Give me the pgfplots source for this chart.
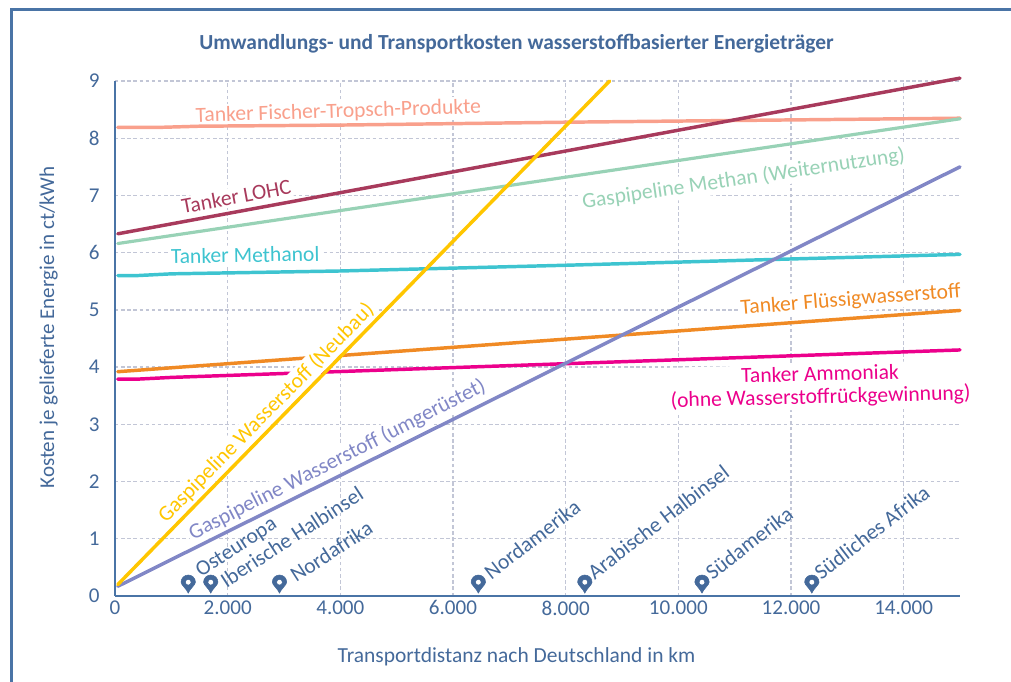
\documentclass[border=0pt]{standalone}
\usepackage{pgfplots}
\pgfplotsset{compat=1.18}
\usepackage{fontspec}
\setmainfont{Carlito}
\definecolor{frameblue}{HTML}{4A74A6}
\definecolor{txtblue}{HTML}{44699A}
\definecolor{gridc}{HTML}{C2C6D6}
\definecolor{cFT}{HTML}{F9A08C}
\definecolor{cLOHC}{HTML}{A83A5C}
\definecolor{cMethan}{HTML}{98D2B6}
\definecolor{cMethanol}{HTML}{3EC4D0}
\definecolor{cFluessig}{HTML}{F08A24}
\definecolor{cAmm}{HTML}{EC008C}
\definecolor{cNeu}{HTML}{FFC600}
\definecolor{cUmg}{HTML}{8187C6}
\pgfdeclareplotmark{pin}{%
  \fill[txtblue,even odd rule]
    (0,0) .. controls (-1.2pt,3.2pt) and (-5.4pt,6.2pt) .. (-5.4pt,8.2pt)
    arc[start angle=180,end angle=0,radius=5.4pt]
    .. controls (5.4pt,6.2pt) and (1.2pt,3.2pt) .. (0,0) -- cycle
    (2.2pt,8.2pt) arc[start angle=0,end angle=360,radius=2.2pt];
}
\begin{document}
\begin{tikzpicture}
\path[use as bounding box] (0,0) rectangle (758.25pt,511.5pt);
\draw[frameblue,line width=2.2pt] (8.6pt,0) -- (8.6pt,504.4pt) -- (758.25pt,504.4pt);
\begin{axis}[
  at={(86.25pt,64.5pt)},anchor=south west,
  scale only axis,width=633.75pt,height=386.25pt,
  xmin=0,xmax=15000,ymin=0,ymax=9,
  clip=false,
  axis x line*=bottom,axis y line*=left,
  axis line style={frameblue,line width=1.3pt,-},
  xtick={0,2000,...,14000},ytick={0,1,...,9},
  major tick length=0pt,
  grid=major,
  major grid style={gridc,line width=1pt,dash pattern=on 2.6pt off 2pt},
  ticklabel style={font=\fontsize{15.8}{18}\selectfont,text=txtblue},
  scaled x ticks=false,
  xticklabel style={/pgf/number format/.cd,fixed,precision=0,1000 sep={.},assume math mode=true},
  yticklabel style={/pgf/number format/assume math mode=true,xshift=-8pt},
]
\def\lab#1#2#3#4#5{\addplot[draw=none,forget plot] coordinates {(#1,#2)} node[font=\fontsize{16.2}{17}\selectfont,text=#4,rotate=#3,fill=white,inner sep=1.5pt,align=center] {#5};}
\lab{3964}{8.46}{1.8}{cFT}{Tanker Fischer-Tropsch-Produkte}
\lab{2150}{6.98}{10.5}{cLOHC}{Tanker LOHC}
\lab{2310}{5.96}{1}{cMethanol}{Tanker Methanol}
\lab{11160}{7.29}{8.4}{cMethan}{Gaspipeline Methan (Weiternutzung)}
\lab{13060}{5.17}{4.5}{cFluessig}{Tanker Flüssigwasserstoff}
\lab{12520}{3.66}{1.5}{cAmm}{Tanker Ammoniak\\(ohne Wasserstoffrückgewinnung)}
\lab{3947}{2.38}{27}{cUmg}{Gaspipeline Wasserstoff (umgerüstet)}
\addplot[cFT,line width=2.6pt,line cap=round] coordinates {(50,8.19) (800,8.19) (1500,8.21) (4000,8.23) (8000,8.28) (12000,8.32) (15000,8.35)};
\addplot[cMethan,line width=2.4pt,line cap=round] coordinates {(50,6.16) (15000,8.34)};
\addplot[cLOHC,line width=2.6pt,line cap=round] coordinates {(50,6.33) (15000,9.05)};
\addplot[cMethanol,line width=2.6pt,line cap=round] coordinates {(50,5.60) (400,5.60) (1000,5.63) (4000,5.68) (8000,5.78) (12000,5.89) (15000,5.97)};
\addplot[cFluessig,line width=2.6pt,line cap=round] coordinates {(50,3.92) (15000,4.99)};
\addplot[cAmm,line width=2.6pt,line cap=round] coordinates {(50,3.79) (400,3.79) (1000,3.82) (15000,4.30)};
\lab{2684}{3.2}{45.5}{cNeu}{Gaspipeline Wasserstoff (Neubau)}
\addplot[cUmg,line width=2.6pt,line cap=round] coordinates {(50,0.17) (15000,7.50)};
\addplot[cNeu,line width=2.6pt,line cap=round] coordinates {(50,0.20) (8780,9)};
\addplot[only marks,mark=pin] coordinates {(1300,0.05) (1700,0.05) (2920,0.05) (6450,0.05) (8340,0.05) (10420,0.05) (12370,0.05)};
\def\place#1#2#3#4{\addplot[draw=none,forget plot] coordinates {(#1,#2)} node[font=\fontsize{16.2}{17}\selectfont,text=txtblue,rotate=#3,anchor=south west,inner sep=0pt] {#4};}
\place{1560}{0.27}{33}{Osteuropa}
\place{1980}{0.13}{33}{Iberische Halbinsel}
\place{3220}{0.22}{33}{Nordafrika}
\place{6680}{0.27}{37.5}{Nordamerika}
\place{8520}{0.27}{37.5}{Arabische Halbinsel}
\place{10610}{0.27}{37.5}{Südamerika}
\place{12540}{0.27}{37.5}{Südliches Afrika}
\end{axis}
\node[font=\fontsize{16.1}{18}\selectfont\bfseries,text=txtblue] at (387.4pt,479pt) {Umwandlungs- und Transportkosten wasserstoffbasierter Energieträger};
\node[font=\fontsize{16.1}{18}\selectfont,text=txtblue] at (387.4pt,19pt) {Transportdistanz nach Deutschland in km};
\node[font=\fontsize{15.8}{18}\selectfont,text=txtblue,rotate=90] at (36.5pt,265.9pt) {Kosten je gelieferte Energie in ct/kWh};
\end{tikzpicture}
\end{document}
